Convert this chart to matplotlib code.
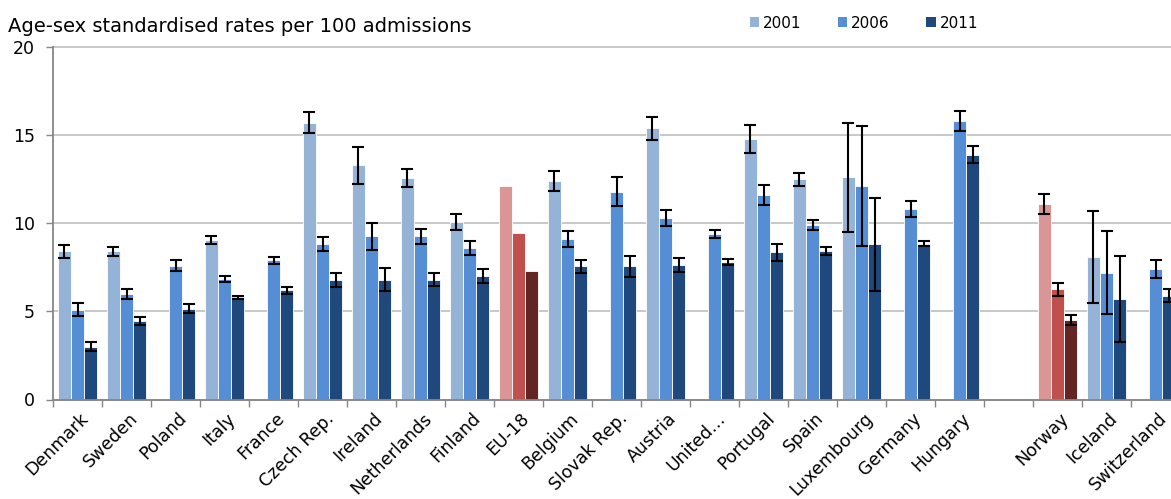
import numpy as np
import matplotlib
matplotlib.use("Agg")
import matplotlib.pyplot as plt
import matplotlib.transforms as mtransforms
from matplotlib.patches import Patch
from matplotlib.ticker import FixedLocator, NullFormatter

nan = np.nan

# categories (empty slot separates EU countries from the others)
categories = ['Denmark', 'Sweden', 'Poland', 'Italy', 'France', 'Czech Rep.',
              'Ireland', 'Netherlands', 'Finland', 'EU-18', 'Belgium',
              'Slovak Rep.', 'Austria', 'United\u2026', 'Portugal', 'Spain',
              'Luxembourg', 'Germany', 'Hungary', '', 'Norway', 'Iceland',
              'Switzerland']
highlight = ['EU-18', 'Norway']
years = ['2001', '2006', '2011']

rates_2001 = [8.4, 8.4, nan, 9.05, nan, 15.7, 13.3, 12.55, 10.05, 12.1, 12.4,
              nan, 15.4, nan, 14.8, 12.5, 12.6, nan, nan, nan, 11.1, 8.1, nan]
err_2001 = [0.35, 0.27, nan, 0.23, nan, 0.6, 1.05, 0.5, 0.45, nan, 0.55,
            nan, 0.65, nan, 0.8, 0.37, 3.1, nan, nan, nan, 0.56, 2.6, nan]

rates_2006 = [5.1, 6.0, 7.6, 6.85, 7.9, 8.8, 9.25, 9.25, 8.6, 9.45, 9.1,
              11.8, 10.3, 9.4, 11.6, 9.9, 12.1, 10.8, 15.8, nan, 6.25, 7.2, 7.4]
err_2006 = [0.36, 0.27, 0.3, 0.17, 0.2, 0.4, 0.77, 0.45, 0.4, nan, 0.45,
            0.84, 0.45, 0.22, 0.55, 0.27, 3.4, 0.45, 0.55, nan, 0.36, 2.35, 0.5]

rates_2011 = [3.0, 4.45, 5.15, 5.8, 6.2, 6.8, 6.8, 6.8, 7.0, 7.3, 7.55,
              7.55, 7.65, 7.8, 8.35, 8.45, 8.8, 8.85, 13.9, nan, 4.5, 5.7, 5.9]
err_2011 = [0.27, 0.22, 0.27, 0.1, 0.2, 0.4, 0.65, 0.35, 0.41, nan, 0.36,
            0.62, 0.4, 0.19, 0.5, 0.23, 2.65, 0.12, 0.5, nan, 0.3, 2.46, 0.35]

blues = ['#95B3D7', '#558ED5', '#1F497D']
reds = ['#D99694', '#C0504D', '#632523']

fig = plt.figure(figsize=(11.71, 4.99), dpi=100)
# plot area runs slightly past the right edge, like the original crop
ax = fig.add_axes([53 / 1171, 99.5 / 499, 1127 / 1171, 352.5 / 499])

x = np.arange(len(categories)) + 0.5
bar_w = 0.272
series = [(rates_2001, err_2001), (rates_2006, err_2006), (rates_2011, err_2011)]

for i, (vals, errs) in enumerate(series):
    pos = x + (i - 1) * bar_w
    cols = [reds[i] if c in highlight else blues[i] for c in categories]
    ax.bar(pos, vals, width=bar_w, color=cols, edgecolor='white',
           linewidth=0.6, zorder=2)
    ax.errorbar(pos, vals, yerr=errs, fmt='none', ecolor='black',
                elinewidth=1.5, capsize=4.5, capthick=1.5, zorder=3)

ax.set_xlim(0, len(categories))
ax.set_ylim(0, 20)
ax.set_yticks([0, 5, 10, 15, 20])
ax.tick_params(axis='y', labelsize=12.5, length=5, width=1, color='#868686',
               pad=8)
ax.yaxis.grid(True, color='#c4c4c4', linewidth=1.3, zorder=0)
for gl in ax.get_ygridlines():
    gl.set_clip_on(False)
ax.set_axisbelow(True)

# category labels at centres, tick marks at the boundaries
ax.set_xticks(x)
ax.set_xticklabels(categories, rotation=45, ha='right', va='top',
                   rotation_mode='anchor', fontsize=12.5)
ax.tick_params(axis='x', which='major', length=0, pad=7)
shift = mtransforms.ScaledTranslation(0.02, 0, fig.dpi_scale_trans)
for lbl in ax.get_xticklabels():
    lbl.set_transform(lbl.get_transform() + shift)
ax.xaxis.set_minor_locator(FixedLocator(np.arange(len(categories) + 1)))
ax.xaxis.set_minor_formatter(NullFormatter())
ax.tick_params(axis='x', which='minor', length=5, width=1, color='#868686')

for s in ['top', 'right']:
    ax.spines[s].set_visible(False)
for s in ['left', 'bottom']:
    ax.spines[s].set_color('#868686')
    ax.spines[s].set_linewidth(1.3)

fig.text(8 / 1171, 1 - 32 / 499, 'Age-sex standardised rates per 100 admissions',
         fontsize=14, va='baseline', ha='left')

handles = [Patch(facecolor=c, edgecolor='none', label=y) for c, y in zip(blues, years)]
fig.legend(handles=handles, ncol=3, loc='center left',
           bbox_to_anchor=(750 / 1171, 1 - 23 / 499), frameon=False,
           fontsize=11, handlelength=0.6, handleheight=0.6,
           handletextpad=0.25, columnspacing=2.4, borderpad=0,
           borderaxespad=0)

fig.savefig('out.png', dpi=100)
